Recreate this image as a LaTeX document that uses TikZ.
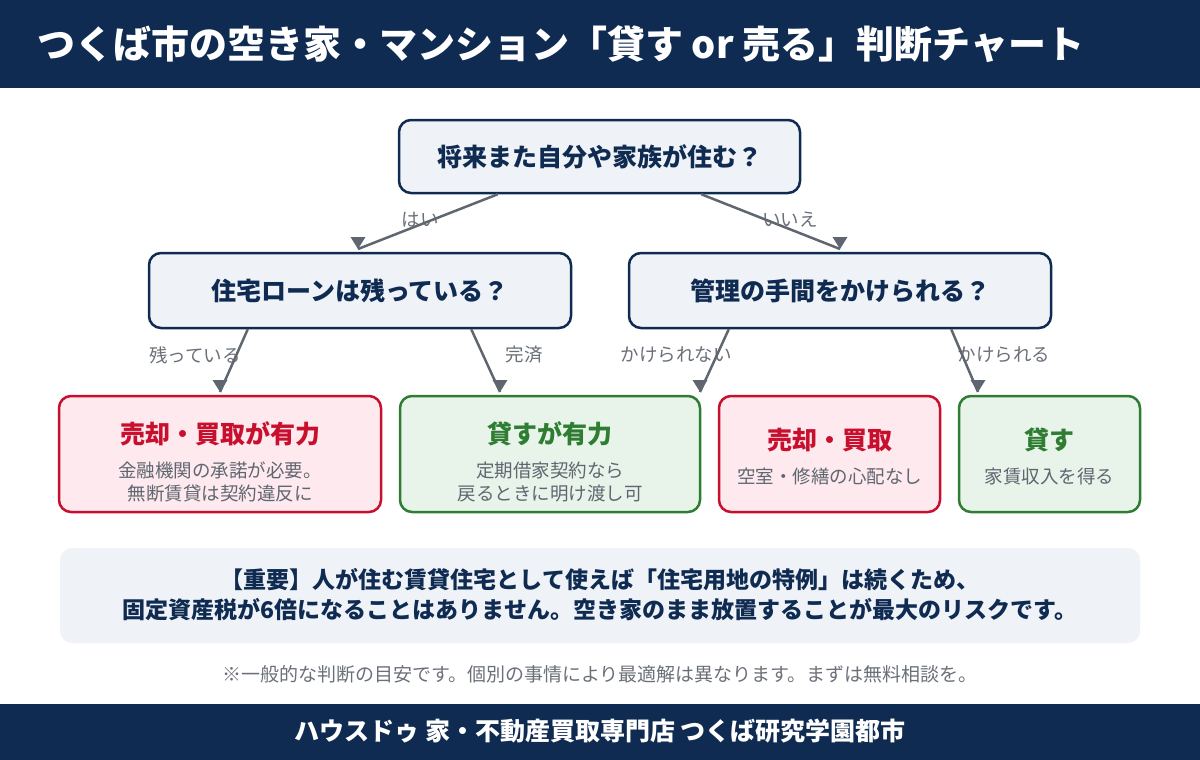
\documentclass[tikz,border=0pt]{standalone}
\usepackage{fontspec}
\setmainfont{Noto Sans CJK JP}
\usetikzlibrary{positioning}
\definecolor{navy}{HTML}{0F2B52}
\definecolor{qfill}{HTML}{EFF3F7}
\definecolor{redc}{HTML}{C8102E}
\definecolor{redfill}{HTML}{FDE9EE}
\definecolor{greenc}{HTML}{2E7D32}
\definecolor{greenfill}{HTML}{E8F3EA}
\definecolor{arrowc}{HTML}{5F6670}
\definecolor{labelc}{HTML}{6B7078}
\definecolor{subc}{HTML}{5F6670}
\tikzset{
  qbox/.style={draw=navy, fill=qfill, line width=2.5pt, rounded corners=12pt, inner sep=0pt,
     text=navy, font=\fontsize{25}{29}\selectfont\bfseries},
  redbox/.style={draw=redc, fill=redfill, line width=2.5pt, rounded corners=12pt, inner sep=0pt},
  greenbox/.style={draw=greenc, fill=greenfill, line width=2.5pt, rounded corners=12pt, inner sep=0pt},
  redtitle/.style={text=redc, inner sep=0pt, font=\fontsize{25}{29}\selectfont\bfseries},
  greentitle/.style={text=greenc, inner sep=0pt, font=\fontsize{25}{29}\selectfont\bfseries},
  subtext/.style={text=subc, inner sep=0pt, align=center, font=\fontsize{18.5}{22.5}\selectfont},
  elabel/.style={text=labelc, inner sep=0pt, font=\fontsize{18.5}{22}\selectfont},
  conn/.style={draw=arrowc, line width=2.5pt},
  tipdown/.style={fill=arrowc},
}
\begin{document}
\begin{tikzpicture}[x=1pt,y=-1pt]
\useasboundingbox (0,0) rectangle (1200,760);
% header
\fill[navy] (0,0) rectangle (1200,88);
\node[anchor=west, text=white, inner sep=0pt, font=\fontsize{38}{42}\selectfont\bfseries] (title) at (37,44)
  {つくば市の空き家・マンション「貸す or 売る」判断チャート};
% footer
\fill[navy] (0,704) rectangle (1200,760);
\node[text=white, inner sep=0pt, font=\fontsize{25}{28}\selectfont\bfseries] (foot) at (600,731)
  {ハウスドゥ 家・不動産買取専門店 つくば研究学園都市};

% question nodes
\node[qbox, minimum width=401pt, minimum height=73pt] (q0) at (599.5,156.5) {将来また自分や家族が住む？};
\node[qbox, minimum width=422pt, minimum height=75pt] (q1) at (360,290.5) {住宅ローンは残っている？};
\node[qbox, minimum width=422pt, minimum height=75pt] (q2) at (840,290.5) {管理の手間をかけられる？};

% leaf boxes
\node[redbox, minimum width=322pt, minimum height=116pt] (l1) at (220,454) {};
\node[greenbox, minimum width=300pt, minimum height=116pt] (l2) at (550,454) {};
\node[redbox, minimum width=221pt, minimum height=116pt] (l3) at (829.5,454) {};
\node[greenbox, minimum width=181pt, minimum height=116pt] (l4) at (1049.5,454) {};

\node[redtitle] (l1t) at (220,434) {売却・買取が有力};
\node[subtext] (l1s) at (220,482) {金融機関の承諾が必要。\\無断賃貸は契約違反に};
\node[greentitle] (l2t) at (550,434) {貸すが有力};
\node[subtext] (l2s) at (550,482) {定期借家契約なら\\戻るときに明け渡し可};
\node[redtitle] (l3t) at (829.5,440) {売却・買取};
\node[subtext] (l3s) at (829.5,476) {空室・修繕の心配なし};
\node[greentitle] (l4t) at (1049.5,440) {貸す};
\node[subtext] (l4s) at (1049.5,476) {家賃収入を得る};

% edge labels
\node[elabel] (e1) at (420,220) {はい};
\node[elabel] (e2) at (790,220) {いいえ};
\node[elabel] (e3) at (195,355) {残っている};
\node[elabel] (e4) at (524,355) {完済};
\node[elabel] (e5) at (676,355) {かけられない};
\node[elabel] (e6) at (1004,355) {かけられる};

% connector tips
\coordinate (t1) at (358,249);
\coordinate (t2) at (840,249);
\coordinate (t3) at (220,392);
\coordinate (t4) at (500,392);
\coordinate (t5) at (700,392);
\coordinate (t6) at (978,392);

\draw[conn] ([xshift=100pt]q0.south west) -- (t1);
\draw[conn] ([xshift=-100pt]q0.south east) -- (t2);
\draw[conn] ([xshift=100pt]q1.south west) -- (t3);
\draw[conn] ([xshift=-101pt]q1.south east) -- (t4);
\draw[conn] ([xshift=101pt]q2.south west) -- (t5);
\draw[conn] ([xshift=-101pt]q2.south east) -- (t6);
\foreach \t in {t1,t2,t3,t4,t5,t6}{
  \fill[tipdown] (\t) -- ++(-7.5,-12) -- ++(15,0) -- cycle;
}

% note box
\node[fill=qfill, rounded corners=12pt, minimum width=1080pt, minimum height=95pt, inner sep=0pt] (note) at (600,595.5) {};
\node[text=navy, inner sep=0pt, align=center, font=\fontsize{23}{30}\selectfont\bfseries] (notet) at (600,595)
  {【重要】人が住む賃貸住宅として使えば「住宅用地の特例」は続くため、\\固定資産税が6倍になることはありません。空き家のまま放置することが最大のリスクです。};
\node[text=labelc, inner sep=0pt, font=\fontsize{19}{23}\selectfont] (fn) at (600,674)
  {※一般的な判断の目安です。個別の事情により最適解は異なります。まずは無料相談を。};
\end{tikzpicture}
\end{document}
